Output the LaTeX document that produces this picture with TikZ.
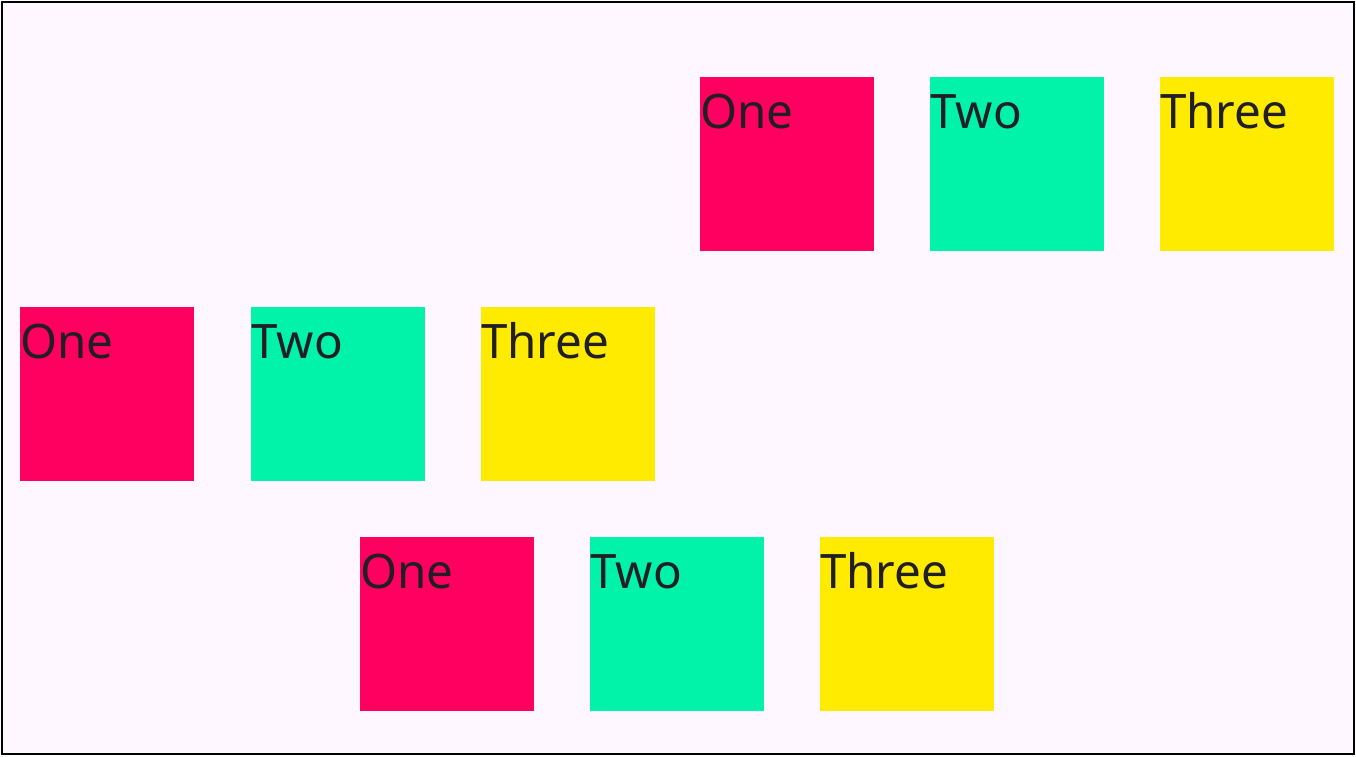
\documentclass[tikz,border=0pt]{standalone}
\usepackage{fontspec}
\setmainfont{Noto Sans}
\usepackage{xcolor}
\usetikzlibrary{positioning}
\definecolor{bgPink}{RGB}{254,247,255}
\definecolor{boxRed}{RGB}{255,0,96}
\definecolor{boxGreen}{RGB}{0,243,169}
\definecolor{boxYellow}{RGB}{255,235,0}
\definecolor{textDark}{RGB}{33,31,36}
\tikzstyle{colorBox}=[rectangle,minimum size=174pt,inner sep=0pt,outer sep=0pt]
\tikzstyle{boxLabel}=[anchor=base west,inner sep=0pt,text=textDark,font=\fontsize{47.5pt}{52pt}\selectfont]

\begin{document}
\begin{tikzpicture}[x=1pt,y=-1pt]

    \useasboundingbox (0,0) rectangle (1356,756);
    \fill[bgPink] (2,2) rectangle (1354,754);
    \draw[line width=2pt] (2,2) rectangle (1354,754);

    % top row
    \node[colorBox, fill=boxRed] (r1a) at (787,164) {};
    \node[colorBox, fill=boxGreen] (r1b) at (1017,164) {};
    \node[colorBox, fill=boxYellow] (r1c) at (1247,164) {};
    % middle row
    \node[colorBox, fill=boxRed] (r2a) at (107,394) {};
    \node[colorBox, fill=boxGreen] (r2b) at (338,394) {};
    \node[colorBox, fill=boxYellow] (r2c) at (568,394) {};
    % bottom row
    \node[colorBox, fill=boxRed] (r3a) at (447,624) {};
    \node[colorBox, fill=boxGreen] (r3b) at (677,624) {};
    \node[colorBox, fill=boxYellow] (r3c) at (907,624) {};

    \node[boxLabel] (t1a) at ([xshift=0pt,yshift=-51pt]r1a.north west) {One};
    \node[boxLabel] (t1b) at ([xshift=0pt,yshift=-51pt]r1b.north west) {Two};
    \node[boxLabel] (t1c) at ([xshift=0pt,yshift=-51pt]r1c.north west) {Three};
    \node[boxLabel] (t2a) at ([xshift=0pt,yshift=-51pt]r2a.north west) {One};
    \node[boxLabel] (t2b) at ([xshift=0pt,yshift=-51pt]r2b.north west) {Two};
    \node[boxLabel] (t2c) at ([xshift=0pt,yshift=-51pt]r2c.north west) {Three};
    \node[boxLabel] (t3a) at ([xshift=0pt,yshift=-51pt]r3a.north west) {One};
    \node[boxLabel] (t3b) at ([xshift=0pt,yshift=-51pt]r3b.north west) {Two};
    \node[boxLabel] (t3c) at ([xshift=0pt,yshift=-51pt]r3c.north west) {Three};

\end{tikzpicture}
\end{document}
